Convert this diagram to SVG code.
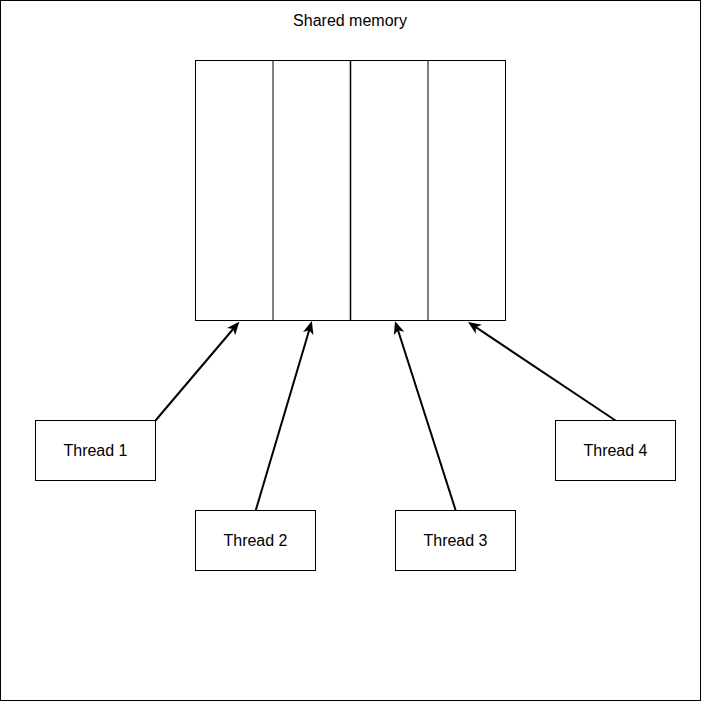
<svg xmlns="http://www.w3.org/2000/svg" width="701" height="701" viewBox="0 0 701 701">
<style>
.box{fill:#fff;stroke:#000;stroke-width:1}
.lbl{font-family:"Liberation Sans",Arial,sans-serif;font-size:16px;fill:#000;text-anchor:middle}
.div{stroke:#000;stroke-width:1}
.edge{stroke:#000;stroke-width:2;fill:none}
</style>
<defs>
<marker id="arr" markerUnits="userSpaceOnUse" markerWidth="14" markerHeight="12" viewBox="0 0 14 12" refX="10" refY="6" orient="auto">
<path d="M13,6 L0,0.5 L3.5,6 L0,11.5 Z" fill="#000"/>
</marker>
</defs>
<rect x="0.5" y="0.5" width="700" height="700" fill="#fff" stroke="#000" stroke-width="1"/>
<text class="lbl" x="350" y="26">Shared memory</text>
<g id="memory">
<rect class="box" x="195.5" y="60.5" width="310" height="260"/>
<line class="div" x1="273" y1="60.5" x2="273" y2="320.5"/>
<line x1="350.5" y1="60.5" x2="350.5" y2="320.5" stroke="#000" stroke-width="1.5"/>
<line class="div" x1="428" y1="60.5" x2="428" y2="320.5"/>
</g>
<g id="thread1">
<rect class="box" x="35.5" y="420.5" width="120" height="60"/>
<text class="lbl" x="95.5" y="456">Thread 1</text>
</g>
<g id="thread2">
<rect class="box" x="195.5" y="510.5" width="120" height="60"/>
<text class="lbl" x="255.5" y="546">Thread 2</text>
</g>
<g id="thread3">
<rect class="box" x="395.5" y="510.5" width="120" height="60"/>
<text class="lbl" x="455.5" y="546">Thread 3</text>
</g>
<g id="thread4">
<rect class="box" x="555.5" y="420.5" width="120" height="60"/>
<text class="lbl" x="615.5" y="456">Thread 4</text>
</g>
<g id="connectors">
<line class="edge" x1="155.5" y1="420.5" x2="237.4" y2="324" marker-end="url(#arr)"/>
<line class="edge" x1="255.7" y1="510.5" x2="311" y2="324" marker-end="url(#arr)"/>
<line class="edge" x1="455.7" y1="510.5" x2="396" y2="324" marker-end="url(#arr)"/>
<line class="edge" x1="615.5" y1="420.5" x2="470.5" y2="323.7" marker-end="url(#arr)"/>
</g>
</svg>
